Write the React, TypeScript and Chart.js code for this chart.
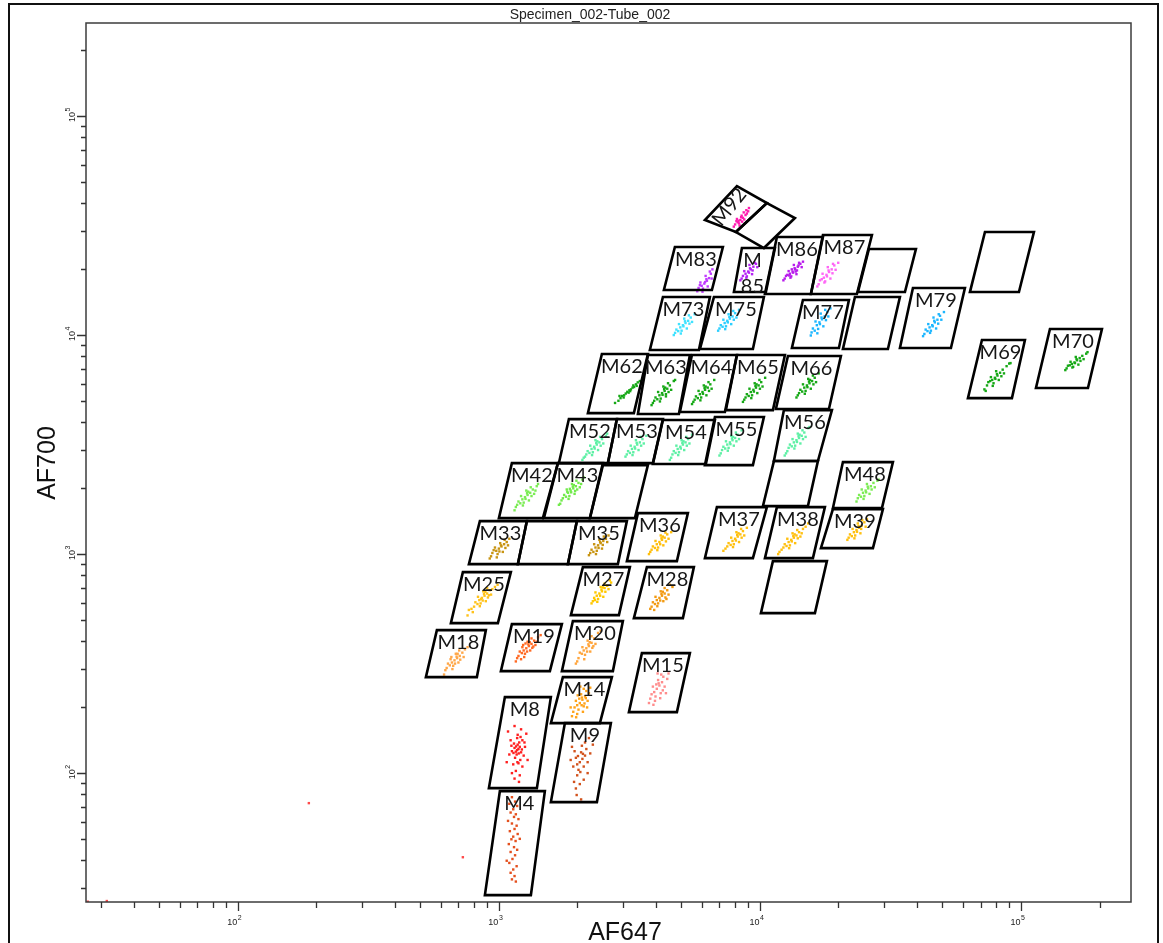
import React, { useEffect, useRef } from 'react';
import { Chart, registerables } from 'chart.js';

Chart.register(...registerables);

// ---------- text ----------
const chartTitle = 'Specimen_002-Tube_002';
const xAxisTitle = 'AF647';
const yAxisTitle = 'AF700';

// ---------- axes (log scale limits, decades, minor multipliers) ----------
const xRange = [26.2, 264000];
const yRange = [25.8, 265900];
const tickDecades = [1, 2, 3, 4, 5];
const tickMultipliers = [1, 2, 3, 4, 5, 6, 7, 8, 9];
const labelledExponents = [2, 3, 4, 5];

// ---------- gates: [name, log10 x top-left, log10 x top-right, log10 y top, log10 x bottom-left, log10 x bottom-right, log10 y bottom]
const gates: [string, number, number, number, number, number, number][] = [
  ['M4', 3.0038, 3.1762, 1.9178, 2.9464, 3.1226, 1.4429],
  ['M8', 3.0230, 3.1992, 2.3470, 2.9617, 3.1456, 1.9315],
  ['M9', 3.2529, 3.4291, 2.2283, 3.1992, 3.3755, 1.8676],
  ['M14', 3.2452, 3.4330, 2.4384, 3.1992, 3.3870, 2.2283],
  ['M15', 3.5479, 3.7318, 2.5479, 3.4981, 3.6820, 2.2785],
  ['M18', 2.7625, 2.9502, 2.6530, 2.7203, 2.9157, 2.4384],
  ['M19', 3.0498, 3.2414, 2.6804, 3.0077, 3.1954, 2.4658],
  ['M20', 3.2835, 3.4751, 2.6941, 3.2414, 3.4368, 2.4658],
  ['M25', 2.8621, 3.0460, 2.9178, 2.8161, 2.9962, 2.6849],
  ['M27', 3.3218, 3.5019, 2.9406, 3.2759, 3.4598, 2.7215],
  ['M28', 3.5670, 3.7471, 2.9406, 3.5172, 3.7050, 2.7078],
  ['M33', 2.9272, 3.1073, 3.1507, 2.8851, 3.0728, 2.9543],
  ['', 3.1073, 3.2989, 3.1507, 3.0728, 3.2644, 2.9543],
  ['M35', 3.2989, 3.4904, 3.1507, 3.2644, 3.4559, 2.9543],
  ['M36', 3.5326, 3.7241, 3.1872, 3.4904, 3.6820, 2.9680],
  ['M37', 3.8352, 4.0268, 3.2146, 3.7893, 3.9732, 2.9817],
  ['M38', 4.0651, 4.2490, 3.2146, 4.0192, 4.2031, 2.9817],
  ['', 4.0498, 4.2567, 2.9680, 4.0038, 4.2107, 2.7306],
  ['M39', 4.2797, 4.4713, 3.2055, 4.2337, 4.4330, 3.0274],
  ['M42', 3.0498, 3.2261, 3.4155, 3.0000, 3.1686, 3.1644],
  ['M43', 3.2261, 3.3985, 3.4155, 3.1724, 3.3487, 3.1644],
  ['', 3.3985, 3.5709, 3.4064, 3.3487, 3.5211, 3.1644],
  ['M48', 4.3180, 4.5096, 3.4201, 4.2797, 4.4674, 3.2100],
  ['M52', 3.2682, 3.4521, 3.6164, 3.2299, 3.4176, 3.4155],
  ['M53', 3.4521, 3.6284, 3.6164, 3.4176, 3.5900, 3.4155],
  ['M54', 3.6284, 3.8276, 3.6119, 3.5900, 3.7931, 3.4110],
  ['M55', 3.8276, 4.0153, 3.6256, 3.7893, 3.9732, 3.4064],
  ['M56', 4.0920, 4.2759, 3.6575, 4.0536, 4.2222, 3.4247],
  ['', 4.0536, 4.2222, 3.4247, 4.0115, 4.1839, 3.2192],
  ['M62', 3.3946, 3.5709, 3.9132, 3.3410, 3.5172, 3.6438],
  ['M63', 3.5709, 3.7318, 3.9087, 3.5326, 3.6897, 3.6393],
  ['M64', 3.7395, 3.9119, 3.9087, 3.6935, 3.8659, 3.6484],
  ['M65', 3.9119, 4.0958, 3.9087, 3.8697, 4.0498, 3.6575],
  ['M66', 4.1073, 4.3103, 3.9041, 4.0613, 4.2644, 3.6621],
  ['M69', 4.8506, 5.0153, 3.9772, 4.7969, 4.9655, 3.7123],
  ['M70', 5.1111, 5.3103, 4.0274, 5.0575, 5.2567, 3.7580],
  ['M73', 3.6284, 3.8084, 4.1735, 3.5785, 3.7663, 3.9315],
  ['M75', 3.8238, 4.0153, 4.1735, 3.7701, 3.9732, 3.9361],
  ['M77', 4.1648, 4.3410, 4.1598, 4.1226, 4.3027, 3.9406],
  ['', 4.3640, 4.5364, 4.1735, 4.3180, 4.4904, 3.9361],
  ['M79', 4.5862, 4.7854, 4.2146, 4.5364, 4.7318, 3.9406],
  ['M83', 3.6743, 3.8582, 4.4018, 3.6322, 3.8161, 4.2055],
  ['M85', 3.9310, 4.0575, 4.3973, 3.9004, 4.0230, 4.1963],
  ['M86', 4.0651, 4.2414, 4.4475, 4.0192, 4.1954, 4.1872],
  ['M87', 4.2414, 4.4291, 4.4566, 4.1954, 4.3716, 4.1872],
  ['', 4.4176, 4.5977, 4.3927, 4.3755, 4.5556, 4.1963],
  ['', 4.8621, 5.0498, 4.4703, 4.8046, 4.9923, 4.1963],
];

// tilted gates: [name, four corners as [log10 x, log10 y]]
const tiltedGates: [string, number[][]][] = [
  ['M92', [[3.7893, 4.5251], [3.9119, 4.6804], [4.0268, 4.6027], [3.9080, 4.4703]]],
  ['', [[4.0268, 4.6027], [4.1341, 4.5342], [4.0153, 4.3973], [3.9080, 4.4703]]],
];

// ---------- events: flat [log10 x, log10 y, ...] per population ----------
const m4 = [3.050,1.890, 3.062,1.870, 3.040,1.860, 3.070,1.850, 3.055,1.835, 3.045,1.820, 3.065,1.812, 3.058,1.800, 3.075,1.790, 3.035,1.782, 3.050,1.770, 3.068,1.760, 3.060,1.745, 3.042,1.735, 3.072,1.722, 3.055,1.710, 3.048,1.698, 3.064,1.690, 3.038,1.676, 3.058,1.662, 3.070,1.650, 3.045,1.640, 3.062,1.625, 3.052,1.608, 3.040,1.590, 3.068,1.575, 3.055,1.560, 3.045,1.545, 3.060,1.530, 3.050,1.515, 3.065,1.505, 3.030,1.600, 3.080,1.700];
const m8 = [3.070,2.105, 3.075,2.110, 3.065,2.098, 3.080,2.120, 3.060,2.115, 3.085,2.095, 3.072,2.130, 3.068,2.085, 3.078,2.140, 3.058,2.135, 3.090,2.150, 3.050,2.100, 3.095,2.080, 3.062,2.070, 3.082,2.060, 3.070,2.160, 3.045,2.150, 3.100,2.120, 3.040,2.085, 3.075,2.045, 3.055,2.040, 3.090,2.030, 3.065,2.010, 3.080,1.990, 3.060,1.975, 3.072,2.175, 3.085,2.200, 3.060,2.215, 3.105,2.180, 3.035,2.190, 3.110,2.060, 3.030,2.050, 3.048,2.125, 3.098,2.140, 3.066,2.122, 3.076,2.090, 3.088,2.108, 3.056,2.092, 3.071,2.050, 3.083,2.165, 3.077,1.960, 3.050,2.000];
const m9 = [3.310,2.050, 3.320,2.065, 3.300,2.040, 3.330,2.080, 3.295,2.070, 3.325,2.030, 3.315,2.095, 3.305,2.015, 3.335,2.110, 3.290,2.100, 3.340,2.050, 3.285,2.030, 3.318,2.125, 3.300,1.990, 3.325,1.970, 3.310,1.950, 3.295,1.930, 3.330,2.140, 3.345,2.160, 3.280,2.120, 3.350,2.090, 3.275,2.060, 3.312,2.005, 3.322,2.088, 3.303,2.078, 3.298,1.900, 3.315,1.880, 3.340,2.000, 3.360,2.130, 3.288,1.960];
const m14 = [3.310,2.320, 3.320,2.335, 3.300,2.310, 3.330,2.350, 3.295,2.330, 3.325,2.305, 3.315,2.360, 3.305,2.290, 3.335,2.375, 3.290,2.300, 3.340,2.330, 3.285,2.280, 3.318,2.345, 3.300,2.270, 3.325,2.385, 3.345,2.365, 3.280,2.260, 3.312,2.395, 3.328,2.318, 3.308,2.340, 3.296,2.255, 3.350,2.390, 3.275,2.300, 3.322,2.280, 3.338,2.300, 3.302,2.355, 3.317,2.310, 3.333,2.342];
const m15 = [3.605,2.385, 3.615,2.400, 3.595,2.370, 3.625,2.415, 3.590,2.395, 3.620,2.365, 3.610,2.425, 3.600,2.350, 3.630,2.440, 3.585,2.360, 3.635,2.395, 3.580,2.340, 3.612,2.410, 3.598,2.330, 3.622,2.450, 3.645,2.430, 3.575,2.320, 3.608,2.455, 3.628,2.378, 3.603,2.405, 3.592,2.312, 3.650,2.455, 3.640,2.365, 3.618,2.342];
const m18 = [2.830,2.515, 2.840,2.525, 2.820,2.505, 2.850,2.535, 2.815,2.520, 2.845,2.505, 2.835,2.545, 2.825,2.490, 2.860,2.550, 2.805,2.500, 2.865,2.530, 2.800,2.480, 2.838,2.532, 2.822,2.475, 2.848,2.560, 2.870,2.565, 2.795,2.470, 2.832,2.500, 2.852,2.518, 2.812,2.492, 2.842,2.545, 2.818,2.530, 2.790,2.450, 2.880,2.575];
const m19 = [3.105,2.570, 3.115,2.580, 3.095,2.560, 3.125,2.590, 3.090,2.575, 3.120,2.560, 3.110,2.600, 3.100,2.545, 3.135,2.605, 3.080,2.555, 3.140,2.585, 3.075,2.535, 3.113,2.588, 3.097,2.530, 3.125,2.615, 3.150,2.620, 3.070,2.525, 3.108,2.555, 3.128,2.572, 3.088,2.548, 3.118,2.598, 3.093,2.585, 3.065,2.510, 3.160,2.630, 3.145,2.600, 3.085,2.520, 3.132,2.578, 3.102,2.592];
const m20 = [3.335,2.570, 3.345,2.580, 3.325,2.560, 3.355,2.595, 3.320,2.575, 3.350,2.555, 3.340,2.605, 3.330,2.540, 3.365,2.615, 3.310,2.550, 3.370,2.590, 3.305,2.525, 3.343,2.588, 3.327,2.520, 3.355,2.625, 3.380,2.640, 3.300,2.510, 3.338,2.555, 3.358,2.572, 3.318,2.545, 3.348,2.598, 3.390,2.650, 3.295,2.500, 3.362,2.580];
const m25 = [2.935,2.800, 2.945,2.810, 2.925,2.790, 2.955,2.820, 2.920,2.805, 2.950,2.785, 2.940,2.830, 2.930,2.775, 2.965,2.835, 2.910,2.780, 2.970,2.815, 2.905,2.760, 2.943,2.818, 2.927,2.762, 2.955,2.845, 2.985,2.850, 2.895,2.750, 2.938,2.788, 2.958,2.802, 2.918,2.772, 2.948,2.828, 2.995,2.860, 2.885,2.745, 2.975,2.840, 2.900,2.735, 2.962,2.812, 2.932,2.795, 2.880,2.720];
const m27 = [3.385,2.820, 3.395,2.830, 3.375,2.810, 3.405,2.845, 3.370,2.825, 3.400,2.805, 3.390,2.850, 3.380,2.795, 3.415,2.855, 3.365,2.800, 3.420,2.840, 3.360,2.785, 3.393,2.838, 3.377,2.782, 3.405,2.865, 3.430,2.870, 3.355,2.775, 3.388,2.810, 3.408,2.828, 3.368,2.790, 3.398,2.848, 3.425,2.880];
const m28 = [3.615,2.800, 3.625,2.810, 3.605,2.790, 3.635,2.820, 3.600,2.805, 3.630,2.785, 3.620,2.830, 3.610,2.775, 3.645,2.835, 3.590,2.780, 3.650,2.815, 3.585,2.760, 3.623,2.818, 3.607,2.762, 3.635,2.845, 3.665,2.850, 3.580,2.750, 3.618,2.788, 3.638,2.802, 3.598,2.772, 3.628,2.828, 3.655,2.860, 3.595,2.745, 3.642,2.795];
const m33 = [3.000,3.025, 3.010,3.035, 2.990,3.015, 3.020,3.045, 2.985,3.030, 3.015,3.010, 3.005,3.050, 2.995,3.000, 3.030,3.055, 2.975,3.005, 3.035,3.040, 2.970,2.990, 3.008,3.040, 2.992,2.985, 3.022,3.065, 2.965,2.980, 3.002,3.012, 3.025,3.028, 2.980,3.018, 3.040,3.070];
const m35 = [3.380,3.040, 3.390,3.050, 3.370,3.030, 3.400,3.060, 3.365,3.045, 3.395,3.025, 3.385,3.065, 3.375,3.015, 3.410,3.070, 3.355,3.020, 3.415,3.055, 3.350,3.005, 3.388,3.055, 3.372,3.000, 3.402,3.080, 3.420,3.085, 3.345,2.995, 3.382,3.028, 3.398,3.042, 3.362,3.010];
const m36 = [3.615,3.055, 3.625,3.065, 3.605,3.045, 3.635,3.075, 3.600,3.060, 3.630,3.040, 3.620,3.085, 3.610,3.030, 3.645,3.090, 3.590,3.035, 3.650,3.070, 3.585,3.020, 3.623,3.072, 3.607,3.018, 3.638,3.098, 3.660,3.100, 3.580,3.010, 3.618,3.045, 3.640,3.058, 3.598,3.028, 3.628,3.080, 3.575,3.000];
const m37 = [3.905,3.070, 3.915,3.080, 3.895,3.060, 3.925,3.090, 3.890,3.075, 3.920,3.055, 3.910,3.100, 3.900,3.045, 3.935,3.105, 3.880,3.050, 3.940,3.085, 3.875,3.035, 3.913,3.088, 3.897,3.032, 3.928,3.115, 3.950,3.120, 3.868,3.025, 3.908,3.062, 3.930,3.075, 3.888,3.042, 3.918,3.095, 3.860,3.015];
const m38 = [4.120,3.065, 4.130,3.075, 4.110,3.055, 4.140,3.085, 4.105,3.070, 4.135,3.050, 4.125,3.095, 4.115,3.040, 4.150,3.100, 4.095,3.045, 4.155,3.080, 4.090,3.030, 4.128,3.083, 4.112,3.027, 4.143,3.110, 4.165,3.115, 4.083,3.020, 4.122,3.058, 4.145,3.072, 4.102,3.037, 4.133,3.090, 4.075,3.010, 4.175,3.125, 4.070,3.000, 4.160,3.095, 4.185,3.140];
const m39 = [4.370,3.110, 4.380,3.120, 4.360,3.100, 4.390,3.130, 4.355,3.115, 4.385,3.095, 4.375,3.140, 4.365,3.085, 4.400,3.145, 4.345,3.090, 4.405,3.125, 4.340,3.075, 4.378,3.128, 4.362,3.072, 4.392,3.155, 4.410,3.160, 4.335,3.065, 4.372,3.102, 4.388,3.115, 4.352,3.082];
const m42 = [3.100,3.260, 3.110,3.270, 3.090,3.250, 3.120,3.280, 3.085,3.265, 3.115,3.245, 3.105,3.290, 3.095,3.235, 3.130,3.295, 3.075,3.240, 3.135,3.275, 3.070,3.225, 3.108,3.278, 3.092,3.222, 3.122,3.305, 3.145,3.310, 3.065,3.215, 3.102,3.252, 3.125,3.265, 3.082,3.232, 3.112,3.285, 3.060,3.200, 3.150,3.320, 3.140,3.290];
const m43 = [3.275,3.290, 3.285,3.300, 3.265,3.280, 3.295,3.310, 3.260,3.295, 3.290,3.275, 3.280,3.320, 3.270,3.265, 3.305,3.325, 3.250,3.270, 3.310,3.305, 3.245,3.255, 3.283,3.308, 3.267,3.252, 3.297,3.335, 3.320,3.340, 3.240,3.245, 3.277,3.282, 3.300,3.295, 3.257,3.262, 3.287,3.315, 3.235,3.230, 3.325,3.350, 3.315,3.320, 3.230,3.225, 3.272,3.298, 3.292,3.288, 3.262,3.285];
const m48 = [4.405,3.290, 4.415,3.300, 4.395,3.280, 4.425,3.310, 4.390,3.295, 4.420,3.275, 4.410,3.320, 4.400,3.265, 4.435,3.325, 4.380,3.270, 4.440,3.305, 4.375,3.255, 4.413,3.308, 4.397,3.252, 4.450,3.335, 4.370,3.240, 4.407,3.282, 4.428,3.295, 4.387,3.262, 4.455,3.340];
const m52 = [3.365,3.490, 3.375,3.500, 3.355,3.480, 3.385,3.510, 3.350,3.495, 3.380,3.475, 3.370,3.520, 3.360,3.465, 3.395,3.525, 3.340,3.470, 3.400,3.505, 3.335,3.455, 3.373,3.508, 3.357,3.452, 3.388,3.535, 3.410,3.540, 3.330,3.445, 3.367,3.482, 3.390,3.495, 3.347,3.462, 3.377,3.515, 3.320,3.430, 3.415,3.550, 3.325,3.440];
const m53 = [3.520,3.490, 3.530,3.500, 3.510,3.480, 3.540,3.510, 3.505,3.495, 3.535,3.475, 3.525,3.520, 3.515,3.465, 3.550,3.525, 3.495,3.470, 3.555,3.505, 3.490,3.455, 3.528,3.508, 3.512,3.452, 3.543,3.535, 3.565,3.540, 3.485,3.445, 3.522,3.482, 3.545,3.495, 3.502,3.462];
const m54 = [3.695,3.490, 3.705,3.500, 3.685,3.480, 3.715,3.510, 3.680,3.495, 3.710,3.475, 3.700,3.520, 3.690,3.465, 3.725,3.525, 3.670,3.470, 3.730,3.505, 3.665,3.455, 3.703,3.508, 3.687,3.452, 3.718,3.535, 3.740,3.545, 3.660,3.440, 3.697,3.482, 3.720,3.495, 3.677,3.462, 3.707,3.515, 3.655,3.430];
const m55 = [3.885,3.510, 3.895,3.520, 3.875,3.500, 3.905,3.530, 3.870,3.515, 3.900,3.495, 3.890,3.540, 3.880,3.485, 3.915,3.545, 3.860,3.490, 3.920,3.525, 3.855,3.475, 3.893,3.528, 3.877,3.472, 3.908,3.555, 3.930,3.565, 3.850,3.460, 3.887,3.502, 3.910,3.515, 3.867,3.482, 3.897,3.535, 3.845,3.450];
const m56 = [4.140,3.520, 4.150,3.530, 4.130,3.510, 4.160,3.540, 4.125,3.525, 4.155,3.505, 4.145,3.550, 4.135,3.495, 4.170,3.555, 4.115,3.500, 4.175,3.535, 4.110,3.485, 4.148,3.538, 4.132,3.482, 4.163,3.565, 4.185,3.575, 4.105,3.470, 4.142,3.512, 4.165,3.525, 4.122,3.492, 4.152,3.545, 4.100,3.460, 4.190,3.580, 4.095,3.450];
const m62 = [3.445,3.690, 3.458,3.700, 3.466,3.712, 3.472,3.722, 3.480,3.725, 3.486,3.733, 3.492,3.741, 3.497,3.737, 3.500,3.748, 3.506,3.752, 3.512,3.760, 3.518,3.763, 3.525,3.775, 3.532,3.784, 3.540,3.790, 3.478,3.715, 3.503,3.744, 3.515,3.770, 3.462,3.722, 3.528,3.768];
const m63 = [3.625,3.735, 3.635,3.745, 3.615,3.725, 3.645,3.755, 3.610,3.740, 3.640,3.720, 3.630,3.765, 3.620,3.710, 3.655,3.770, 3.600,3.715, 3.660,3.750, 3.595,3.700, 3.633,3.753, 3.617,3.697, 3.648,3.780, 3.670,3.790, 3.590,3.690, 3.627,3.727, 3.650,3.740, 3.607,3.707, 3.637,3.760, 3.585,3.680, 3.675,3.795, 3.640,3.730];
const m64 = [3.780,3.740, 3.790,3.750, 3.770,3.730, 3.800,3.760, 3.765,3.745, 3.795,3.725, 3.785,3.770, 3.775,3.715, 3.810,3.775, 3.755,3.720, 3.815,3.755, 3.750,3.705, 3.788,3.758, 3.772,3.702, 3.803,3.785, 3.825,3.795, 3.745,3.695, 3.782,3.732, 3.805,3.745, 3.762,3.712, 3.792,3.765, 3.740,3.685];
const m65 = [3.975,3.750, 3.985,3.760, 3.965,3.740, 3.995,3.770, 3.960,3.755, 3.990,3.735, 3.980,3.780, 3.970,3.725, 4.005,3.785, 3.950,3.730, 4.010,3.765, 3.945,3.715, 3.983,3.768, 3.967,3.712, 3.998,3.795, 4.020,3.805, 3.940,3.705, 3.977,3.742, 4.000,3.755, 3.957,3.722, 3.987,3.775, 3.935,3.695];
const m66 = [4.180,3.770, 4.190,3.780, 4.170,3.760, 4.200,3.790, 4.165,3.775, 4.195,3.755, 4.185,3.800, 4.175,3.745, 4.210,3.805, 4.155,3.750, 4.215,3.785, 4.150,3.735, 4.188,3.788, 4.172,3.732, 4.203,3.815, 4.225,3.825, 4.145,3.725, 4.182,3.762, 4.205,3.775, 4.162,3.742, 4.192,3.795, 4.140,3.715];
const m69 = [4.900,3.805, 4.910,3.815, 4.890,3.795, 4.920,3.828, 4.885,3.808, 4.915,3.795, 4.905,3.835, 4.895,3.780, 4.930,3.842, 4.875,3.785, 4.935,3.825, 4.870,3.770, 4.908,3.822, 4.892,3.768, 4.945,3.858, 4.860,3.752, 4.955,3.870, 4.865,3.745, 4.902,3.800, 4.925,3.812, 4.882,3.790, 4.960,3.872];
const m70 = [5.205,3.875, 5.215,3.885, 5.195,3.868, 5.225,3.895, 5.190,3.878, 5.220,3.865, 5.210,3.900, 5.200,3.855, 5.235,3.905, 5.180,3.860, 5.240,3.890, 5.175,3.848, 5.213,3.890, 5.197,3.852, 5.250,3.915, 5.170,3.840, 5.207,3.872, 5.228,3.882, 5.187,3.862, 5.255,3.922];
const m73 = [3.705,4.045, 3.715,4.055, 3.695,4.035, 3.725,4.065, 3.690,4.050, 3.720,4.030, 3.710,4.075, 3.700,4.020, 3.735,4.080, 3.680,4.025, 3.740,4.060, 3.675,4.010, 3.713,4.063, 3.697,4.007, 3.728,4.090, 3.750,4.095, 3.670,4.000, 3.707,4.040, 3.730,4.052, 3.687,4.018];
const m75 = [3.875,4.065, 3.885,4.075, 3.865,4.055, 3.895,4.085, 3.860,4.070, 3.890,4.050, 3.880,4.095, 3.870,4.040, 3.905,4.100, 3.850,4.045, 3.910,4.080, 3.845,4.030, 3.883,4.083, 3.867,4.027, 3.898,4.110, 3.920,4.115, 3.840,4.020, 3.877,4.058, 3.900,4.070, 3.857,4.038];
const m77 = [4.228,4.058, 4.238,4.072, 4.218,4.045, 4.248,4.085, 4.213,4.062, 4.243,4.040, 4.233,4.098, 4.223,4.028, 4.258,4.105, 4.203,4.030, 4.262,4.085, 4.198,4.012, 4.236,4.080, 4.220,4.008, 4.250,4.115, 4.270,4.122, 4.195,3.998, 4.230,4.050, 4.253,4.068, 4.210,4.020];
const m79 = [4.660,4.045, 4.670,4.058, 4.650,4.035, 4.680,4.070, 4.645,4.050, 4.675,4.030, 4.665,4.080, 4.655,4.020, 4.690,4.088, 4.635,4.025, 4.695,4.070, 4.630,4.005, 4.668,4.065, 4.652,4.010, 4.685,4.095, 4.705,4.105, 4.625,3.995, 4.662,4.040, 4.683,4.052, 4.642,4.018];
const m83 = [3.787,4.235, 3.797,4.248, 3.777,4.225, 3.805,4.260, 3.772,4.240, 3.800,4.222, 3.792,4.270, 3.782,4.212, 3.812,4.280, 3.765,4.215, 3.815,4.258, 3.760,4.200, 3.795,4.255, 3.780,4.198, 3.808,4.290, 3.818,4.300, 3.770,4.228, 3.790,4.242];
const m85 = [3.955,4.290, 3.965,4.300, 3.945,4.280, 3.975,4.312, 3.940,4.292, 3.970,4.278, 3.960,4.320, 3.950,4.268, 3.985,4.325, 3.935,4.270, 3.990,4.310, 3.930,4.258, 3.962,4.305, 3.948,4.262, 3.980,4.330, 3.925,4.250, 3.958,4.285, 3.972,4.295];
const m86 = [4.125,4.290, 4.135,4.300, 4.115,4.280, 4.145,4.312, 4.110,4.292, 4.140,4.278, 4.130,4.320, 4.120,4.268, 4.155,4.325, 4.100,4.270, 4.160,4.310, 4.095,4.258, 4.133,4.305, 4.117,4.262, 4.150,4.330, 4.090,4.250, 4.127,4.285, 4.142,4.295, 4.105,4.275, 4.165,4.335, 4.137,4.290, 4.122,4.300, 4.112,4.272, 4.148,4.318];
const m87 = [4.255,4.275, 4.265,4.288, 4.245,4.262, 4.275,4.300, 4.240,4.280, 4.270,4.258, 4.260,4.310, 4.250,4.245, 4.285,4.318, 4.230,4.250, 4.290,4.298, 4.225,4.232, 4.263,4.295, 4.247,4.240, 4.280,4.325, 4.300,4.330, 4.220,4.222, 4.257,4.268, 4.278,4.282, 4.237,4.255];
const m92 = [3.925,4.525, 3.935,4.535, 3.915,4.515, 3.945,4.548, 3.910,4.520, 3.940,4.528, 3.930,4.545, 3.920,4.510, 3.950,4.555, 3.905,4.505, 3.955,4.565, 3.900,4.495, 3.928,4.538, 3.918,4.522, 3.948,4.570, 3.938,4.560, 3.912,4.530, 3.932,4.518, 3.922,4.500, 3.958,4.580];
const strayEvents = [2.272,1.863, 2.862,1.616, 1.498,1.416, 1.425,1.413];

const populations: [number[], string][] = [
  [m4, '#e4501e'], [m8, '#ff1f1f'], [m9, '#d2521c'], [m14, '#ffa31a'], [m15, '#ff8c8c'],
  [m18, '#ffa748'], [m19, '#ff6a24'], [m20, '#ffa53c'], [m25, '#ffc21a'], [m27, '#ffc800'],
  [m28, '#f29a12'], [m33, '#c89412'], [m35, '#c89412'], [m36, '#ffbe0a'], [m37, '#ffc010'],
  [m38, '#ffc010'], [m39, '#ffc010'], [m42, '#7cec55'], [m43, '#72ea4c'], [m48, '#7cec55'],
  [m52, '#5ef0a5'], [m53, '#5ef0a5'], [m54, '#5ef0a5'], [m55, '#5ef0a5'], [m56, '#5ef0a5'],
  [m62, '#16a816'], [m63, '#16a816'], [m64, '#16a816'], [m65, '#16a816'], [m66, '#16a816'],
  [m69, '#16a816'], [m70, '#16a816'], [m73, '#40e2ff'], [m75, '#2ccfff'], [m77, '#1cb6ff'],
  [m79, '#1cb6ff'], [m83, '#c03cff'], [m85, '#b424f4'], [m86, '#b81cec'], [m87, '#ff66f6'],
  [m92, '#ff1cb0'], [strayEvents, '#ff4a4a'],
];

const toPoints = (flat: number[]) => {
  const out: { x: number; y: number }[] = [];
  for (let i = 0; i < flat.length; i += 2) out.push({ x: 10 ** flat[i], y: 10 ** flat[i + 1] });
  return out;
};

const gateCorners = (g: [string, number, number, number, number, number, number]) => {
  const [, xtl, xtr, yt, xbl, xbr, yb] = g;
  return [[xtl, yt], [xtr, yt], [xbr, yb], [xbl, yb]];
};

const closedPath = (corners: number[][]) => {
  const pts = corners.map(([a, b]) => ({ x: 10 ** a, y: 10 ** b }));
  return [...pts, pts[0], pts[1]];
};

const FONT_SANS = '"Liberation Sans", Arial, sans-serif';
const FONT_LABEL = '20px Lato, "Open Sans", sans-serif';

const decorPlugin = {
  id: 'flowDecor',
  afterDatasetsDraw(chart: any) {
    const { ctx, scales } = chart;
    const xs = scales.x, ys = scales.y;
    ctx.save();
    ctx.fillStyle = '#161616';
    ctx.font = FONT_LABEL;
    ctx.textAlign = 'center';
    ctx.textBaseline = 'alphabetic';
    for (const g of gates) {
      const name = g[0];
      if (!name) continue;
      const px = (xs.getPixelForValue(10 ** g[1]) + xs.getPixelForValue(10 ** g[2])) / 2 - 3;
      const py = ys.getPixelForValue(10 ** g[3]) + 19;
      const lines = name === 'M85' ? ['M', '85'] : [name];
      lines.forEach((t, i) => ctx.fillText(t, px - (lines.length > 1 ? 3 : 0), py + i * 26));
    }
    for (const [name, corners] of tiltedGates) {
      if (!name) continue;
      const pts = corners.map(([a, b]) => [xs.getPixelForValue(10 ** a), ys.getPixelForValue(10 ** b)]);
      const mx = (pts[0][0] + pts[1][0]) / 2, my = (pts[0][1] + pts[1][1]) / 2;
      const cx = pts.reduce((s, p) => s + p[0], 0) / 4, cy = pts.reduce((s, p) => s + p[1], 0) / 4;
      const tx = mx + 0.55 * (cx - mx), ty = my + 0.55 * (cy - my);
      const ang = Math.atan2(pts[1][1] - pts[0][1], pts[1][0] - pts[0][0]) - 0.08;
      ctx.save();
      ctx.translate(tx, ty);
      ctx.rotate(ang);
      ctx.textBaseline = 'middle';
      ctx.fillText(name, 0, 0);
      ctx.restore();
    }
    ctx.restore();
  },
  afterDraw(chart: any) {
    const { ctx, chartArea: ca, scales } = chart;
    const xs = scales.x, ys = scales.y;
    ctx.save();
    // outer frame
    ctx.strokeStyle = '#111';
    ctx.lineWidth = 2;
    ctx.beginPath();
    ctx.moveTo(9, 943);
    ctx.lineTo(9, 4);
    ctx.lineTo(1158, 4);
    ctx.lineTo(1158, 943);
    ctx.stroke();
    // plot frame
    ctx.strokeStyle = '#3c3c3c';
    ctx.lineWidth = 1.5;
    ctx.strokeRect(ca.left, ca.top, ca.right - ca.left, ca.bottom - ca.top);
    // title
    ctx.fillStyle = '#222';
    ctx.font = `14px ${FONT_SANS}`;
    ctx.textAlign = 'center';
    ctx.textBaseline = 'alphabetic';
    ctx.fillText(chartTitle, 590, 19);
    // ticks
    ctx.strokeStyle = '#333';
    ctx.lineWidth = 1.3;
    ctx.beginPath();
    for (const e of tickDecades) {
      for (const m of tickMultipliers) {
        const v = m * 10 ** e;
        const major = m === 1;
        if (v >= xRange[0] && v <= xRange[1]) {
          const px = Math.round(xs.getPixelForValue(v)) + 0.5;
          ctx.moveTo(px, ca.bottom);
          ctx.lineTo(px, ca.bottom + (major ? 9 : 6));
        }
        if (v >= yRange[0] && v <= yRange[1]) {
          const py = Math.round(ys.getPixelForValue(v)) + 0.5;
          ctx.moveTo(ca.left, py);
          ctx.lineTo(ca.left - (major ? 9 : 5), py);
        }
      }
    }
    ctx.stroke();
    // tick labels 10^n
    ctx.fillStyle = '#222';
    for (const e of labelledExponents) {
      const v = 10 ** e;
      const px = xs.getPixelForValue(v);
      ctx.font = `9px ${FONT_SANS}`;
      ctx.textAlign = 'right';
      ctx.fillText('10', px - 0.5, 925);
      ctx.font = `7px ${FONT_SANS}`;
      ctx.textAlign = 'left';
      ctx.fillText(String(e), px, 919.5);

      const py = ys.getPixelForValue(v);
      ctx.save();
      ctx.translate(75, py + 1);
      ctx.rotate(-Math.PI / 2);
      ctx.font = `9px ${FONT_SANS}`;
      ctx.textAlign = 'center';
      ctx.fillText('10', 0, 0);
      ctx.font = `7px ${FONT_SANS}`;
      ctx.textAlign = 'left';
      ctx.fillText(String(e), 5.5, -5.5);
      ctx.restore();
    }
    // axis titles
    ctx.fillStyle = '#111';
    ctx.font = `25px ${FONT_SANS}`;
    ctx.textAlign = 'center';
    ctx.fillText(xAxisTitle, 625, 940);
    ctx.save();
    ctx.translate(55, 463);
    ctx.rotate(-Math.PI / 2);
    ctx.fillText(yAxisTitle, 0, 0);
    ctx.restore();
    ctx.restore();
  },
};

export default function App() {
  const ref = useRef<HTMLCanvasElement>(null);
  useEffect(() => {
    const canvas = ref.current;
    if (!canvas) return;
    const gateSets = [
      ...gates.map((g) => closedPath(gateCorners(g))),
      ...tiltedGates.map(([, c]) => closedPath(c)),
    ].map((data) => ({
      data,
      showLine: true,
      borderColor: '#000',
      borderWidth: 2.6,
      borderJoinStyle: 'miter' as const,
      pointRadius: 0,
      fill: false,
      order: 0,
    }));
    const eventSets = populations.map(([flat, color]) => ({
      data: toPoints(flat),
      showLine: false,
      pointRadius: 1.7,
      pointStyle: 'rect' as const,
      backgroundColor: color,
      borderWidth: 0,
      order: 1,
    }));
    const chart = new Chart(canvas, {
      type: 'scatter',
      data: { datasets: [...gateSets, ...eventSets] as any },
      options: {
        animation: false,
        responsive: false,
        events: [],
        layout: { padding: { left: 86, right: 32, top: 23, bottom: 41 } },
        scales: {
          x: { type: 'logarithmic', min: xRange[0], max: xRange[1], display: false },
          y: { type: 'logarithmic', min: yRange[0], max: yRange[1], display: false },
        },
        plugins: { legend: { display: false }, tooltip: { enabled: false }, title: { display: false } },
      },
      plugins: [decorPlugin],
    });
    let alive = true;
    const fonts = (document as any).fonts;
    if (fonts && fonts.load) {
      Promise.all([
        fonts.load(FONT_LABEL),
        fonts.load(`14px ${FONT_SANS}`),
      ]).then(() => { if (alive) chart.update(); }).catch(() => {});
    }
    return () => { alive = false; chart.destroy(); };
  }, []);
  return (
    <div style={{ position: 'fixed', left: 0, top: 0, width: 1163, height: 943, background: '#fff' }}>
      <canvas ref={ref} width={1163} height={943} style={{ display: 'block', width: 1163, height: 943 }} />
    </div>
  );
}
